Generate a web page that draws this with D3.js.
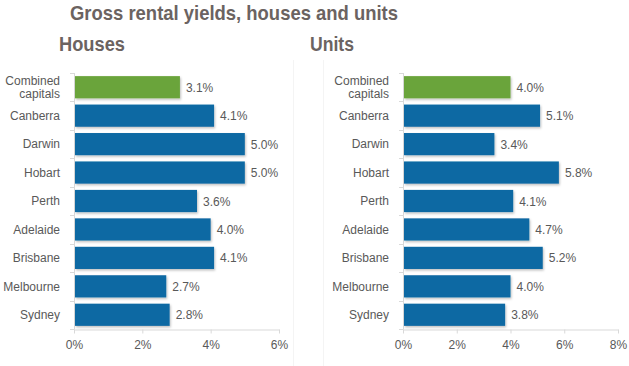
<!DOCTYPE html>
<html>
<head>
<meta charset="utf-8">
<script src="https://cdn.jsdelivr.net/npm/d3@7"></script>
<style>
  html, body { margin: 0; padding: 0; background: #ffffff; }
  svg { display: block; font-family: "Liberation Sans", Arial, sans-serif; }
</style>
</head>
<body>
<svg id="chart" width="629" height="366"></svg>
<script>
// ---- data ----
const categories = ["Combined capitals", "Canberra", "Darwin", "Hobart", "Perth", "Adelaide", "Brisbane", "Melbourne", "Sydney"];
const housesValues = [3.1, 4.1, 5.0, 5.0, 3.6, 4.0, 4.1, 2.7, 2.8];
const unitsValues = [4.0, 5.1, 3.4, 5.8, 4.1, 4.7, 5.2, 4.0, 3.8];
const housesTicks = [0, 2, 4, 6];
const unitsTicks = [0, 2, 4, 6, 8];
const mainTitle = "Gross rental yields, houses and units";
const panelTitles = ["Houses", "Units"];

const svg = d3.select("#chart");
const blue = "#0c69a3", green = "#6aa43a", textCol = "#595959", axisCol = "#d9d9d9", titleCol = "#6b6361";

// subtle shadow
const defs = svg.append("defs");
const f = defs.append("filter").attr("id", "sh").attr("x", "-5%").attr("y", "-10%").attr("width", "115%").attr("height", "140%");
f.append("feDropShadow").attr("dx", 1).attr("dy", 1.5).attr("stdDeviation", 0.8).attr("flood-color", "#000").attr("flood-opacity", 0.25);

// faint panel borders
svg.append("line").attr("x1", 293.5).attr("x2", 293.5).attr("y1", 60).attr("y2", 366).attr("stroke", "#f4f4f4");
svg.append("line").attr("x1", 323.5).attr("x2", 323.5).attr("y1", 60).attr("y2", 366).attr("stroke", "#f4f4f4");

svg.append("text").attr("x", 70).attr("y", 20)
  .attr("font-size", 20.5).attr("font-weight", "bold").attr("fill", titleCol)
  .attr("textLength", 328).attr("lengthAdjust", "spacingAndGlyphs").text(mainTitle);

function panel(values, ticks, x0, x1, labelX, title, titleX, titleW) {
  const x = d3.scaleLinear().domain([0, ticks[ticks.length - 1]]).range([x0, x1]);
  const y = d3.scaleBand().domain(categories).range([73, 329]).paddingInner(0.22).paddingOuter(0.11);
  const g = svg.append("g");

  g.append("text").attr("x", titleX).attr("y", 51).attr("font-size", 20).attr("font-weight", "bold")
    .attr("fill", titleCol).attr("textLength", titleW).attr("lengthAdjust", "spacingAndGlyphs").text(title);

  // x axis
  const xa = g.append("g").attr("transform", "translate(0,329.5)")
    .call(d3.axisBottom(x).tickValues(ticks).tickFormat(d => d + "%").tickSize(4).tickSizeOuter(0));
  xa.select(".domain").attr("stroke", axisCol);
  xa.selectAll(".tick line").attr("stroke", axisCol);
  xa.selectAll(".tick text").attr("fill", textCol).attr("font-size", 12).attr("dy", "1.05em")
    .attr("font-family", "Liberation Sans, Arial, sans-serif");

  // y axis line + separators
  const step = y.step();
  g.append("line").attr("x1", x0 + 0.5).attr("x2", x0 + 0.5).attr("y1", 73).attr("y2", 329.5).attr("stroke", axisCol);
  g.selectAll(".sep").data(d3.range(categories.length + 1)).join("line")
    .attr("x1", x0 - 4).attr("x2", x0 + 0.5)
    .attr("y1", i => Math.round(73 + i * step) + 0.5).attr("y2", i => Math.round(73 + i * step) + 0.5)
    .attr("stroke", axisCol);

  // bars
  g.selectAll(".bar").data(categories).join("rect")
    .attr("x", x0 + 1).attr("y", d => y(d))
    .attr("width", (d, i) => x(values[i]) - x0 - 1).attr("height", y.bandwidth())
    .attr("fill", (d, i) => i === 0 ? green : blue).attr("filter", "url(#sh)");

  // value labels
  g.selectAll(".val").data(categories).join("text")
    .attr("x", (d, i) => x(values[i]) + 6).attr("y", d => y(d) + y.bandwidth() / 2 + 4.5)
    .attr("font-size", 12).attr("fill", textCol)
    .text((d, i) => values[i].toFixed(1) + "%");

  // category labels
  categories.forEach(c => {
    const cy = y(c) + y.bandwidth() / 2;
    const words = c === "Combined capitals" ? ["Combined", "capitals"] : [c];
    const t = g.append("text").attr("x", labelX).attr("text-anchor", "end").attr("font-size", 12).attr("fill", textCol);
    words.forEach((w, k) => {
      t.append("tspan").attr("x", labelX).attr("y", cy + 4.3 + (k - (words.length - 1) / 2) * 13).text(w);
    });
  });
}

panel(housesValues, housesTicks, 74, 279, 60, panelTitles[0], 59, 66);
panel(unitsValues, unitsTicks, 403, 618, 389, panelTitles[1], 310, 44);
</script>
</body>
</html>
